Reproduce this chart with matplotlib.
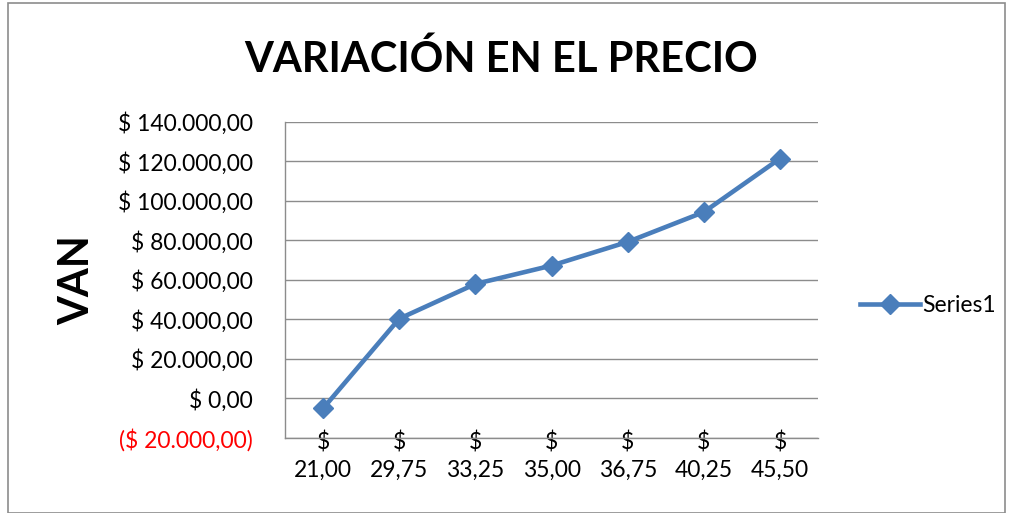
import matplotlib
matplotlib.use("Agg")
import matplotlib.pyplot as plt
from matplotlib.patches import Rectangle

# data
precios = ["21,00", "29,75", "33,25", "35,00", "36,75", "40,25", "45,50"]
van = [-5000, 40400, 58000, 67300, 79300, 94400, 121500]
y_ticks = [-20000, 0, 20000, 40000, 60000, 80000, 100000, 120000, 140000]
y_labels = ["($ 20.000,00)", "$ 0,00", "$ 20.000,00", "$ 40.000,00", "$ 60.000,00",
            "$ 80.000,00", "$ 100.000,00", "$ 120.000,00", "$ 140.000,00"]

plt.rcParams['font.family'] = ['Lato', 'DejaVu Sans']

fig = plt.figure(figsize=(10.09, 5.13), dpi=100)
fig.patches.append(Rectangle((0.008, 0.0), 0.988, 0.995, transform=fig.transFigure,
                             fill=False, edgecolor="#8c8c8c", linewidth=1.2))

ax = fig.add_axes([0.2825, 0.1462, 0.5283, 0.616])
x = list(range(len(precios)))
ax.plot(x, van, color="#4A7EBB", linewidth=3.3, marker="D", markersize=10,
        label="Series1")

ax.set_xlim(-0.5, len(precios) - 0.5)
ax.set_ylim(-20000, 140000)
ax.set_yticks(y_ticks)
ax.set_yticklabels(y_labels, fontsize=16.5)
for lbl, v in zip(ax.get_yticklabels(), y_ticks):
    if v < 0:
        lbl.set_color("red")
ax.set_xticks(x)
ax.set_xticklabels(["$\n" + p for p in precios], fontsize=16.5, linespacing=1.4)
ax.tick_params(axis="x", length=0, pad=-5)
ax.tick_params(axis="y", length=0, pad=23)

ax.grid(axis="y", color="#8c8c8c", linewidth=1)
ax.set_axisbelow(True)
for s in ["top", "right"]:
    ax.spines[s].set_visible(False)
for s in ["left", "bottom"]:
    ax.spines[s].set_color("#8c8c8c")
    ax.spines[s].set_linewidth(1)

fig.text(0.497, 0.885, "VARIACIÓN EN EL PRECIO", ha="center", va="center",
         fontsize=30, fontweight="bold")
fig.text(0.077, 0.454, "VAN", ha="center", va="center", rotation=90,
         fontsize=30, fontweight="bold")

fig.legend(loc="center left", bbox_to_anchor=(0.832, 0.405), frameon=False,
           fontsize=16.5, handlelength=2.6, handletextpad=0.1)

fig.savefig("out.png", dpi=100)
